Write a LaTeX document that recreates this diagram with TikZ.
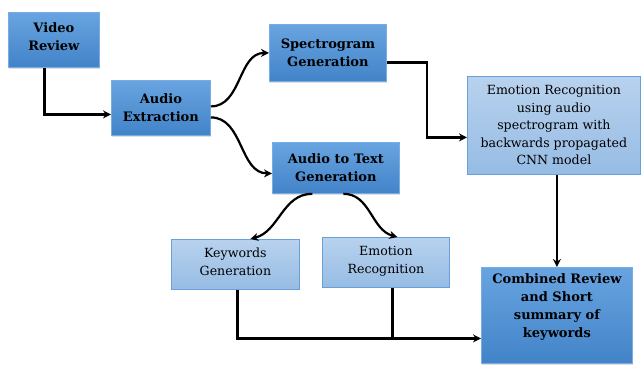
\documentclass[tikz,border=0pt]{standalone}
\usepackage{fontspec}
\setmainfont{DejaVu Serif}
\usetikzlibrary{arrows.meta,shadows}
\definecolor{darktop}{RGB}{104,164,224}
\definecolor{darkbot}{RGB}{66,131,200}
\definecolor{darkedge}{RGB}{120,172,226}
\definecolor{lighttop}{RGB}{184,210,238}
\definecolor{lightbot}{RGB}{150,188,228}
\definecolor{lightedge}{RGB}{104,160,218}
\tikzset{
  mainbox/.style={draw=darkedge, line width=0.8pt, top color=darktop, bottom color=darkbot,
    align=center, font=\bfseries\fontsize{13}{18}\selectfont, inner sep=0pt,
    anchor=north west, drop shadow={opacity=0.25, shadow xshift=1pt, shadow yshift=-1.5pt}},
  subbox/.style={draw=lightedge, line width=0.8pt, top color=lighttop, bottom color=lightbot,
    align=center, font=\fontsize{12.6}{17.5}\selectfont, inner sep=0pt, anchor=north west},
  link/.style={line width=2.2pt, black},
  arr/.style={link, -{Stealth[length=8pt,width=8pt]}},
}
\begin{document}
\begin{tikzpicture}[x=1pt,y=-1pt]
\useasboundingbox (0,0) rectangle (642,365);

% stages of the pipeline
\node[mainbox, minimum width=91pt, minimum height=55pt, text depth=6pt] (vr) at (8,12) {Video\\Review};
\node[mainbox, minimum width=99pt, minimum height=55pt] (ae) at (111,80) {Audio\\Extraction};
\node[mainbox, minimum width=117pt, minimum height=57pt] (sg) at (269,24) {Spectrogram\\Generation};
\node[mainbox, minimum width=127pt, minimum height=51pt] (att) at (272,142) {Audio to Text\\Generation};
\node[subbox, minimum width=173pt, minimum height=98pt] (er) at (467,76)
  {Emotion Recognition\\using audio\\spectrogram with\\backwards propagated\\CNN model};
\node[subbox, minimum width=128pt, minimum height=50pt, text depth=5pt] (kg) at (171,239) {Keywords\\Generation};
\node[subbox, minimum width=127pt, minimum height=50pt, text depth=5pt] (emo) at (322,237) {Emotion\\Recognition};
\node[mainbox, minimum width=151pt, minimum height=96pt, text depth=20pt] (cr) at (481,267)
  {Combined Review\\and Short\\summary of\\keywords};

% connectors
\draw[arr] ([xshift=-9.5pt]vr.south) |- ([yshift=-6.5pt]ae.west);
\draw[arr] ([yshift=1.5pt]ae.east) to[out=0,in=180] (sg.west);
\draw[arr] ([yshift=-9.5pt]ae.east) to[out=0,in=180] ([yshift=-5.5pt]att.west);
\draw[arr] ([yshift=-9.5pt]sg.east) -- ++(40,0) |- ([yshift=-12pt]er.west);
\draw[arr] (cr.north |- er.south) -- (cr.north);
\draw[arr] ([xshift=-23.5pt]att.south) to[out=180,in=15] ([xshift=15pt]kg.north);
\draw[arr] ([xshift=7.5pt]att.south) to[out=0,in=165] ([xshift=11.5pt]emo.north);

\coordinate (crIn) at ([yshift=-23pt]cr.west);
\coordinate (kgOut) at ([xshift=2pt]kg.south);
\coordinate (emoOut) at ([xshift=6.5pt]emo.south);
\draw[arr] (kgOut) |- (crIn);
\draw[link] (emoOut) -- (emoOut |- crIn);
\end{tikzpicture}
\end{document}
